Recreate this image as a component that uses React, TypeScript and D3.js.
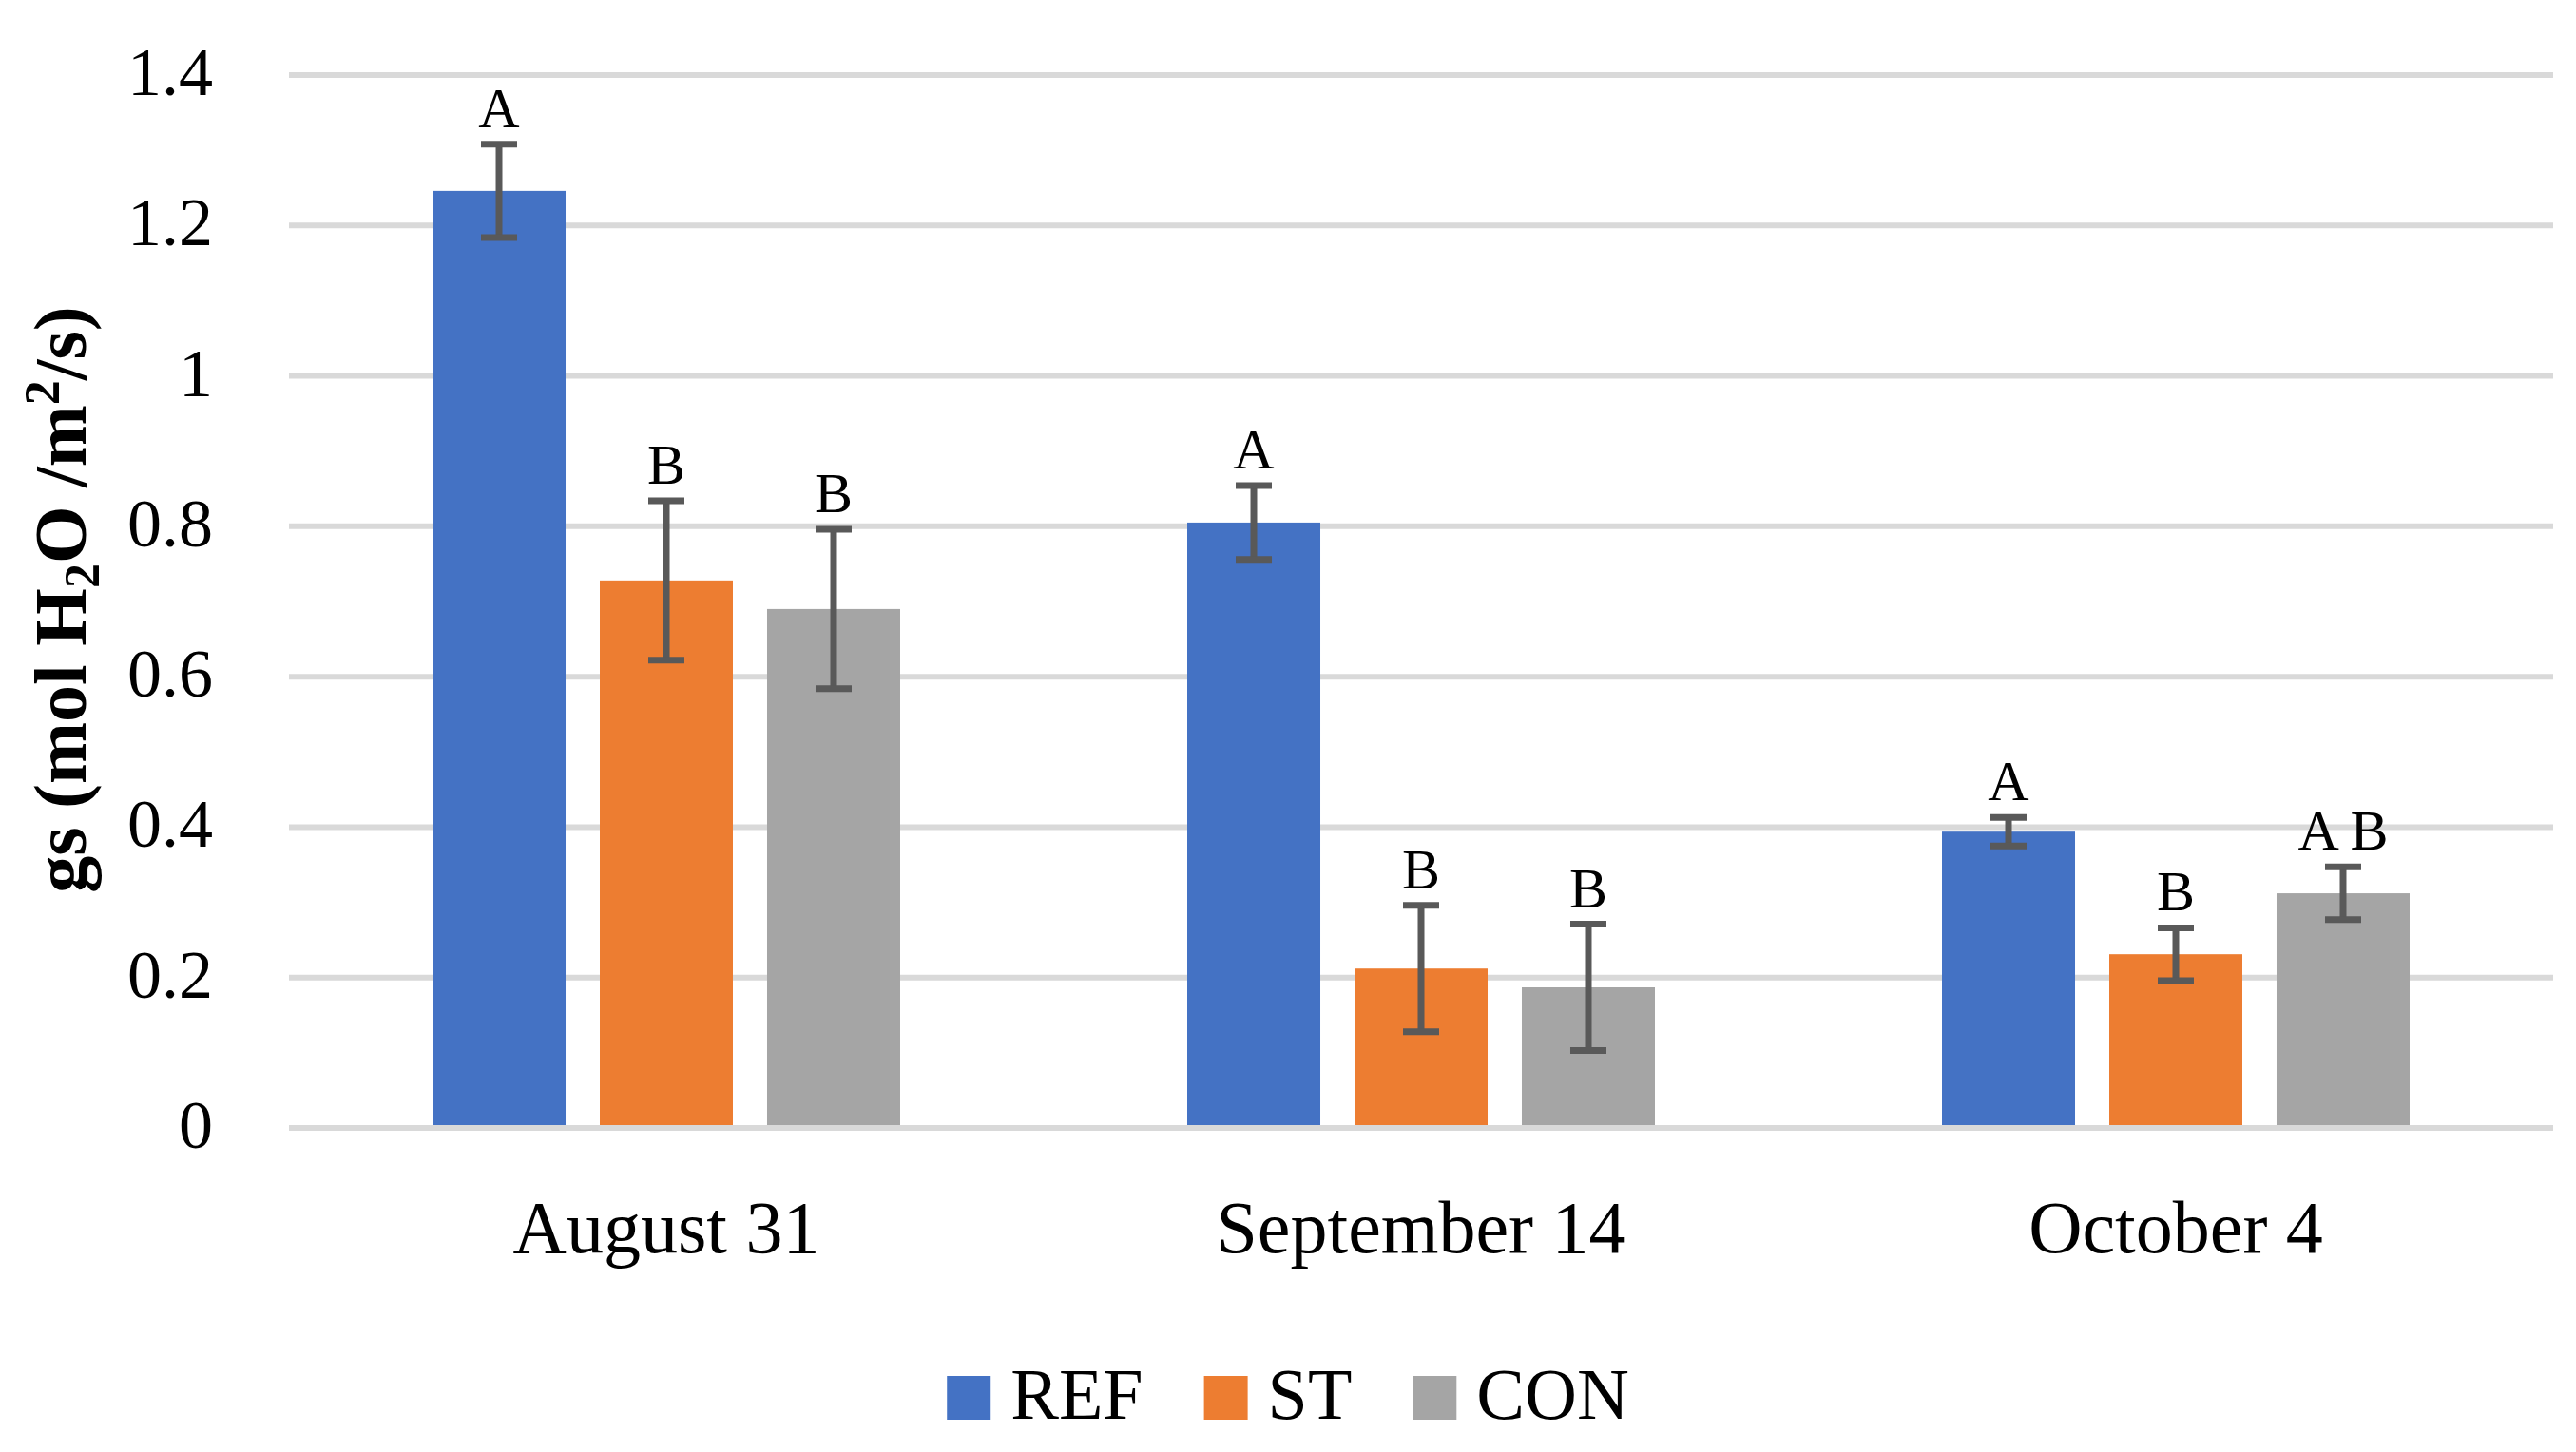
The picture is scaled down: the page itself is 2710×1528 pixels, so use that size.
import React, { useRef, useEffect } from "react";
import { select, scaleBand, scaleLinear } from "d3";

const dates = ["August 31", "September 14", "October 4"];
const series = ["REF", "ST", "CON"];
const colors = ["#4472C4", "#ED7D31", "#A5A5A5"];

const refValues = [1.246, 0.805, 0.394];
const stValues = [0.728, 0.212, 0.231];
const conValues = [0.69, 0.187, 0.312];

const refErr = [0.062, 0.049, 0.019];
const stErr = [0.106, 0.084, 0.035];
const conErr = [0.106, 0.084, 0.035];

const refLetters = ["A", "A", "A"];
const stLetters = ["B", "B", "B"];
const conLetters = ["B", "B", "A B"];

const yTicks = [0, 0.2, 0.4, 0.6, 0.8, 1, 1.2, 1.4];

const WIDTH = 2710;
const HEIGHT = 1528;
const FONT = "'Liberation Serif', 'DejaVu Serif', serif";

const App: React.FC = () => {
  const svgRef = useRef<SVGSVGElement>(null);

  useEffect(() => {
    document.body.style.margin = "0";
    const svg = select(svgRef.current);
    svg.selectAll("*").remove();

    const left = 304;
    const right = 2686;
    const top = 79;
    const bottom = 1187;

    const x0 = scaleBand<string>().domain(dates).range([left, right]);
    const x1 = scaleBand<string>()
      .domain(series)
      .range([0, x0.bandwidth()])
      .paddingInner(0.2045)
      .paddingOuter(0.858);
    const y = scaleLinear().domain([0, 1.4]).range([bottom, top]);

    const values = [refValues, stValues, conValues];
    const errs = [refErr, stErr, conErr];
    const letters = [refLetters, stLetters, conLetters];

    // gridlines
    svg
      .append("g")
      .selectAll("line")
      .data(yTicks)
      .join("line")
      .attr("x1", left)
      .attr("x2", right)
      .attr("y1", (d) => y(d))
      .attr("y2", (d) => y(d))
      .attr("stroke", "#D9D9D9")
      .attr("stroke-width", 6);

    // y tick labels
    svg
      .append("g")
      .selectAll("text")
      .data(yTicks)
      .join("text")
      .attr("x", 224)
      .attr("y", (d) => y(d) + 21)
      .attr("text-anchor", "end")
      .attr("font-family", FONT)
      .attr("font-size", 72)
      .attr("fill", "#000")
      .text((d) => String(d));

    const rows = series.flatMap((s, si) =>
      dates.map((d, di) => ({
        s,
        si,
        d,
        v: values[si][di],
        e: errs[si][di],
        l: letters[si][di],
      }))
    );

    // bars
    svg
      .append("g")
      .selectAll("rect")
      .data(rows)
      .join("rect")
      .attr("x", (r) => x0(r.d)! + x1(r.s)!)
      .attr("width", x1.bandwidth())
      .attr("y", (r) => y(r.v))
      .attr("height", (r) => y(0) - y(r.v) - 3)
      .attr("fill", (r) => colors[r.si]);

    // error bars
    const eg = svg.append("g").attr("stroke", "#595959").attr("stroke-width", 7);
    rows.forEach((r) => {
      const cx = x0(r.d)! + x1(r.s)! + x1.bandwidth() / 2;
      eg.append("line")
        .attr("x1", cx)
        .attr("x2", cx)
        .attr("y1", y(r.v + r.e))
        .attr("y2", y(r.v - r.e));
      [r.v + r.e, r.v - r.e].forEach((v) => {
        eg.append("line")
          .attr("x1", cx - 19)
          .attr("x2", cx + 19)
          .attr("y1", y(v))
          .attr("y2", y(v));
      });
    });

    // significance letters
    svg
      .append("g")
      .selectAll("text")
      .data(rows)
      .join("text")
      .attr("x", (r) => x0(r.d)! + x1(r.s)! + x1.bandwidth() / 2)
      .attr("y", (r) => y(r.v + r.e) - 18)
      .attr("text-anchor", "middle")
      .attr("font-family", FONT)
      .attr("font-size", 60)
      .attr("fill", "#000")
      .text((r) => r.l);

    // x labels
    svg
      .append("g")
      .selectAll("text")
      .data(dates)
      .join("text")
      .attr("x", (d) => x0(d)! + x0.bandwidth() / 2)
      .attr("y", 1318)
      .attr("text-anchor", "middle")
      .attr("font-family", FONT)
      .attr("font-size", 78)
      .attr("fill", "#000")
      .text((d) => d);

    // y title
    const title = svg
      .append("text")
      .attr("transform", "translate(90,631) rotate(-90)")
      .attr("text-anchor", "middle")
      .attr("font-family", FONT)
      .attr("font-size", 78)
      .attr("font-weight", "bold")
      .attr("fill", "#000");
    title.append("tspan").text("gs (mol H");
    title.append("tspan").attr("font-size", 52).attr("dy", 14).text("2");
    title.append("tspan").attr("dy", -14).text("O /m");
    title.append("tspan").attr("font-size", 52).attr("dy", -28).text("2");
    title.append("tspan").attr("dy", 28).text("/s)");

    // legend
    const lg = svg.append("g");
    let lx = 0;
    series.forEach((s, i) => {
      lg.append("rect")
        .attr("x", lx)
        .attr("y", 1448)
        .attr("width", 46)
        .attr("height", 46)
        .attr("fill", colors[i]);
      const t = lg
        .append("text")
        .attr("x", lx + 67)
        .attr("y", 1493)
        .attr("font-family", FONT)
        .attr("font-size", 76)
        .attr("fill", "#000")
        .text(s);
      const w = (t.node() as SVGTextElement).getComputedTextLength();
      lx += 67 + w + 64;
    });
    const total = lx - 64;
    lg.attr("transform", `translate(${WIDTH / 2 - total / 2},0)`);
  }, []);

  return (
    <svg
      ref={svgRef}
      width={WIDTH}
      height={HEIGHT}
      style={{ display: "block", background: "#fff" }}
    ></svg>
  );
};

export default App;
